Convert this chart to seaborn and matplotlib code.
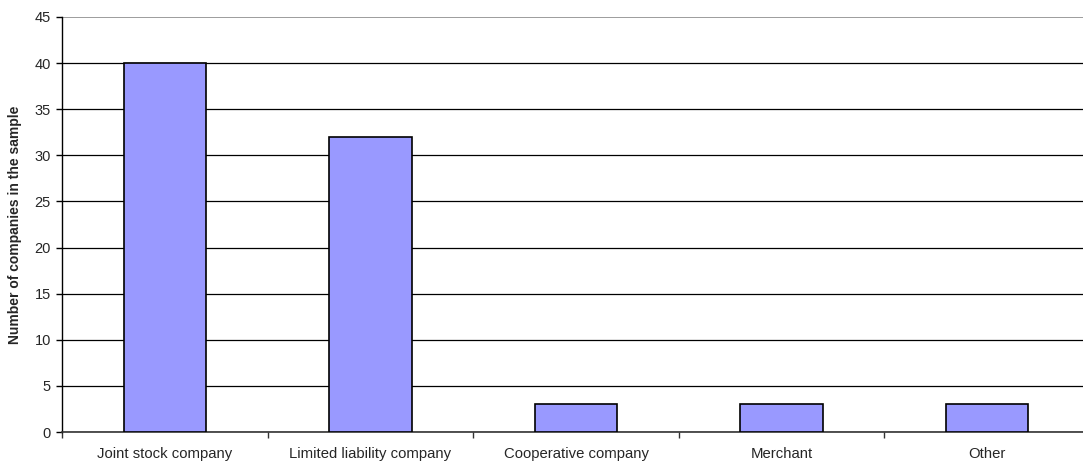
import matplotlib
matplotlib.use("Agg")
import matplotlib.pyplot as plt
import seaborn as sns
import pandas as pd
import numpy as np

categories = ["Joint stock company", "Limited liability company",
              "Cooperative company", "Merchant", "Other"]
counts = [40, 32, 3, 3, 3]
y_ticks = [0, 5, 10, 15, 20, 25, 30, 35, 40, 45]

sns.set_style("white")
plt.rcParams["font.family"] = ["Liberation Sans", "DejaVu Sans"]

df = pd.DataFrame({"type": categories, "n": counts})

fig = plt.figure(figsize=(10.83, 4.65), dpi=100)
# plot area runs slightly past the right edge of the canvas
ax = fig.add_axes([62 / 1083, 33 / 465, (1090 - 62) / 1083, (432 - 17) / 465])

sns.barplot(data=df, x="type", y="n", ax=ax, color="#9999FF",
            saturation=1, width=0.40, edgecolor="black", linewidth=1.2,
            zorder=3)

ax.set_ylim(0, 45)
ax.set_xlim(-0.5, len(categories) - 0.5)
ax.set_yticks(y_ticks)
ax.yaxis.grid(True, color="black", linewidth=0.9, zorder=0)
ax.set_axisbelow(True)
# topmost gridline is drawn lighter
ax.get_ygridlines()[-1].set_color("#8c8c8c")
ax.get_ygridlines()[-1].set_linewidth(1.2)

# tick marks between categories, labels centred under bars
ax.set_xticks(np.arange(len(categories)) - 0.5, minor=True)
ax.tick_params(axis="x", which="major", length=0, pad=11, labelsize=10.7)
ax.tick_params(axis="x", which="minor", length=4, width=1, color="#333333",
               direction="out", bottom=True)
ax.tick_params(axis="y", which="major", length=4, width=1, color="black",
               direction="out", left=True, labelsize=10.5, pad=4)

for side in ["top", "right"]:
    ax.spines[side].set_visible(False)
ax.spines["left"].set_color("black")
ax.spines["left"].set_linewidth(1)
ax.spines["bottom"].set_color("#333333")
ax.spines["bottom"].set_linewidth(1.2)

ax.set_xlabel("")
ax.set_ylabel("Number of companies in the sample", fontsize=10,
              fontweight="bold", labelpad=9)

fig.savefig("out.png", dpi=100)
